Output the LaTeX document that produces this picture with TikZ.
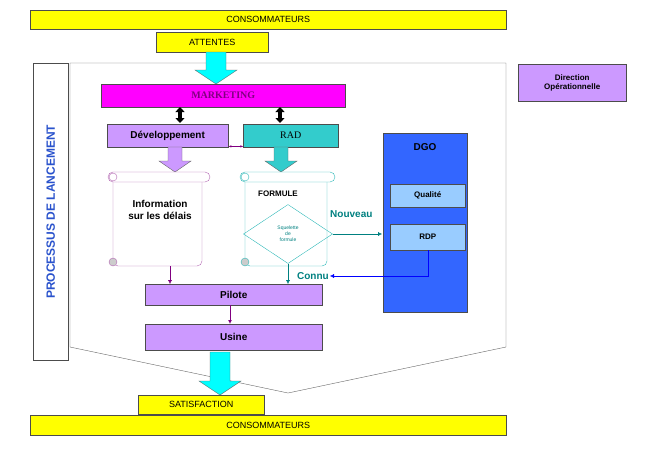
\documentclass[tikz,border=0pt]{standalone}
\usepackage{fontspec}
\setmainfont{Liberation Sans}
\setsansfont{Liberation Sans}
\newfontfamily\serifmk{Liberation Serif}
\usetikzlibrary{shapes.geometric,arrows.meta}
\definecolor{jaune}{RGB}{255,255,0}
\definecolor{lilas}{RGB}{204,153,255}
\definecolor{magen}{RGB}{255,0,255}
\definecolor{sarcelle}{RGB}{51,204,204}
\definecolor{turq}{RGB}{0,255,255}
\definecolor{bleu}{RGB}{51,102,255}
\definecolor{bleuclair}{RGB}{153,204,255}
\definecolor{vert}{RGB}{0,128,128}
\definecolor{violet}{RGB}{128,0,128}
\tikzset{
  boite/.style={draw=black!70, minimum height=#1, inner sep=0pt, anchor=north west},
  fin/.style={-{Latex[length=4pt,width=4pt]}},
}
% grosse fleche vers le bas : x, haut, bas, demi-tige, demi-tete, longueur tete
\newcommand{\grossefleche}[7]{%
  \draw[black!60, fill=#7] (#1-#4,#2) -- (#1+#4,#2) -- (#1+#4,#3-#6) -- (#1+#5,#3-#6)
    -- (#1,#3) -- (#1-#5,#3-#6) -- (#1-#4,#3-#6) -- cycle;}
\begin{document}
\begin{tikzpicture}[x=1pt,y=-1pt,font=\sffamily\small]
\useasboundingbox (0,0) rectangle (651,451);
% cadre
\draw[black!60] (70,347) -- (70,63) -- (506,63) -- (506,347) -- (288,393) -- cycle;
\node[boite=297pt, minimum width=35pt, draw=black!70] (proc) at (33,63) {};
\node[rotate=90, font=\sffamily\bfseries\large, text=bleu!80!black] at (proc.center) {PROCESSUS DE LANCEMENT};
\node[boite=37pt, minimum width=108pt, fill=lilas, align=center, font=\sffamily\bfseries\footnotesize] (dir) at (518,64) {Direction\\Opérationnelle};
% consommateurs
\node[boite=19pt, minimum width=476pt, fill=jaune] (conso) at (30,10) {CONSOMMATEURS};
\node[boite=20pt, minimum width=112pt, fill=jaune] (att) at (156,32) {ATTENTES};
\grossefleche{216}{52}{84}{10}{21}{14}{turq}
\node[boite=23pt, minimum width=244pt, fill=magen, font=\serifmk\bfseries] (mark) at (101,84) {\textcolor{violet}{MARKETING}};
\draw[line width=4pt, {Triangle[length=5pt,width=9pt]}-{Triangle[length=5pt,width=9pt]}] (180,107) -- (180,123);
\draw[line width=4pt, {Triangle[length=5pt,width=9pt]}-{Triangle[length=5pt,width=9pt]}] (280,107) -- (280,123);
\node[boite=23pt, minimum width=121pt, fill=lilas, font=\sffamily\bfseries] (dev) at (107,124) {Développement};
\node[boite=23pt, minimum width=95pt, fill=sarcelle, font=\serifmk] (rad) at (243,124) {RAD};
\draw[violet, {Latex[length=3pt]}-{Latex[length=3pt]}] (dev.south east) ++(0,-1) -- ++(15,0);
\grossefleche{175}{147}{172}{7}{16}{11}{lilas}
\grossefleche{281}{147}{172}{7}{16}{11}{sarcelle}
% parchemins
\foreach \xa/\xb/\col/\nom in {108/210/violet!60/gauche, 240/335/sarcelle!90!black/droite}{
  \draw[\col, rounded corners=5pt] (\xa+5,180) -- (\xa+5,266) -- (\xb-8,266) -- (\xb-8,182);
  \draw[\col, rounded corners=5pt, fill=white] (\xa,172) rectangle (\xb,182);
  \draw[\col, fill=white] (\xa+5,177) circle (4pt);
  \draw[\col, fill=black!20] (\xa+5,262) circle (4pt);
  \coordinate (\nom) at (\xa,172);
}
\node[font=\sffamily\bfseries, align=center] (info) at (160,210) {Information\\sur les délais};
\node[font=\sffamily\bfseries\footnotesize] (form) at (278,194) {FORMULE};
\node[diamond, draw=sarcelle!90!black, minimum width=89pt, minimum height=59pt, inner sep=0pt, aspect=1.5, align=center, font=\sffamily\tiny, text=vert] (sq) at (288,234) {Squelette\\de\\formule};
% DGO
\node[boite=179pt, minimum width=84pt, fill=bleu] (dgo) at (383,133) {};
\node[font=\sffamily\bfseries] at (425,147) {DGO};
\node[boite=23pt, minimum width=75pt, fill=bleuclair, font=\sffamily\bfseries\footnotesize] (qual) at (390,184) {Qualité};
\node[boite=26pt, minimum width=75pt, fill=bleuclair, font=\sffamily\bfseries\footnotesize] (rdp) at (390,224) {RDP};
\node[font=\sffamily\bfseries, text=vert, anchor=west, inner sep=0pt] (nouv) at (330,214) {Nouveau};
\coordinate (dgoin) at (382,234);
\draw[vert, fin] (sq.east) -- (dgoin);
\node[font=\sffamily\bfseries, text=vert, anchor=east, inner sep=1pt] (connu) at (330,276) {Connu};
\draw[blue, fin] (rdp.south) -- (rdp.south |- connu.east) -- (connu.east);
% pilote
\node[boite=21pt, minimum width=177pt, fill=lilas, font=\sffamily\bfseries] (pil) at (145,284) {Pilote};
\node[boite=26pt, minimum width=177pt, fill=lilas, font=\sffamily\bfseries] (usi) at (145,324) {Usine};
\coordinate (infobas) at (170,266);
\coordinate (pilbas) at (230,305);
\coordinate (usihaut) at (230,324);
\draw[violet, fin] (infobas) -- (infobas |- pil.north);
\draw[vert, fin] (sq.south) -- (sq.south |- pil.north);
\draw[violet, thick, fin] (pilbas) -- (usihaut);
% sortie
\grossefleche{220}{352}{395}{10}{21}{14}{turq}
\node[boite=19pt, minimum width=126pt, fill=jaune] (sat) at (138,395) {SATISFACTION};
\node[boite=20pt, minimum width=476pt, fill=jaune] (conso2) at (30,415) {CONSOMMATEURS};
\end{tikzpicture}
\end{document}
